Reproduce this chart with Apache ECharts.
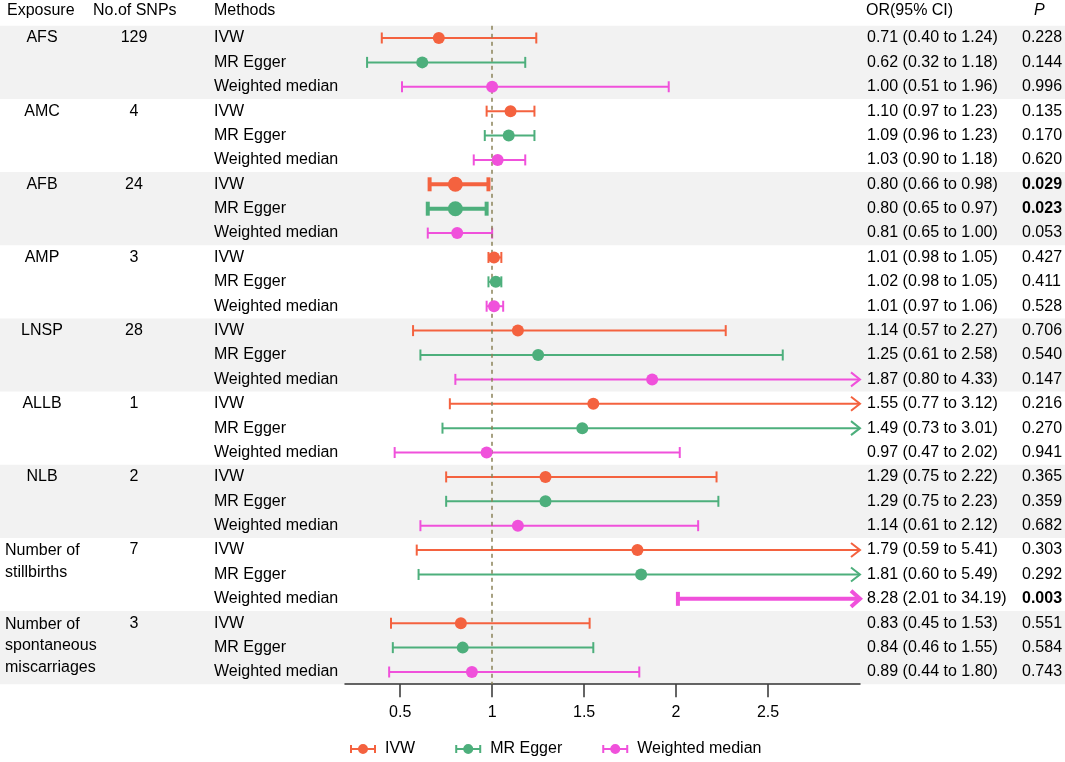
<!DOCTYPE html>
<html><head><meta charset="utf-8">
<script src="https://cdn.jsdelivr.net/npm/echarts@6/dist/echarts.min.js"></script>
<style>html,body{margin:0;padding:0;background:#fff}#c{width:1065px;height:762px}</style>
</head><body><div id="c"></div>
<script>
// ---------- data ----------
const exposures = ['AFS','AMC','AFB','AMP','LNSP','ALLB','NLB','Number of\nstillbirths','Number of\nspontaneous\nmiscarriages'];
const nSNPs = [129, 4, 24, 3, 28, 1, 2, 7, 3];
const methods = ['IVW', 'MR Egger', 'Weighted median'];

const ivwOR    = [0.71, 1.10, 0.80, 1.01, 1.14, 1.55, 1.29, 1.79, 0.83];
const ivwLower = [0.40, 0.97, 0.66, 0.98, 0.57, 0.77, 0.75, 0.59, 0.45];
const ivwUpper = [1.24, 1.23, 0.98, 1.05, 2.27, 3.12, 2.22, 5.41, 1.53];
const ivwP     = [0.228, 0.135, 0.029, 0.427, 0.706, 0.216, 0.365, 0.303, 0.551];

const eggerOR    = [0.62, 1.09, 0.80, 1.02, 1.25, 1.49, 1.29, 1.81, 0.84];
const eggerLower = [0.32, 0.96, 0.65, 0.98, 0.61, 0.73, 0.75, 0.60, 0.46];
const eggerUpper = [1.18, 1.23, 0.97, 1.05, 2.58, 3.01, 2.23, 5.49, 1.55];
const eggerP     = [0.144, 0.170, 0.023, 0.411, 0.540, 0.270, 0.359, 0.292, 0.584];

const wmOR    = [1.00, 1.03, 0.81, 1.01, 1.87, 0.97, 1.14, 8.28, 0.89];
const wmLower = [0.51, 0.90, 0.65, 0.97, 0.80, 0.47, 0.61, 2.01, 0.44];
const wmUpper = [1.96, 1.18, 1.00, 1.06, 4.33, 2.02, 2.12, 34.19, 1.80];
const wmP     = [0.996, 0.620, 0.053, 0.528, 0.147, 0.941, 0.682, 0.003, 0.743];

const axisTickValues = [0.5, 1, 1.5, 2, 2.5];
const axisMin = 0.2, axisMax = 3;

// ---------- styling ----------
const FONT = 'Arial, "Liberation Sans", Helvetica, sans-serif';
const COLORS = ['#F4623F', '#4DAF7C', '#F051DB'];
const BAND = '#F2F2F2';
const TOP = 25.8, BOTTOM = 77.8;

const methodSets = [
  {or: ivwOR, lo: ivwLower, hi: ivwUpper, p: ivwP},
  {or: eggerOR, lo: eggerLower, hi: eggerUpper, p: eggerP},
  {or: wmOR, lo: wmLower, hi: wmUpper, p: wmP}
];
const nRows = exposures.length * methods.length;
const rowCats = Array.from({length: nRows}, (_, i) => String(i));

const bandData = exposures.map((e, g) => [0, g * 3, g]);
const tableData = [];
exposures.forEach((e, g) => methods.forEach((m, k) => tableData.push([0, g * 3 + k, g, k])));

function bandRender(params, api) {
  const g = api.value(2);
  if (g % 2 === 1) return null;
  const h = api.size([0, 1])[1];
  const y = api.coord([0, api.value(1)])[1] - h / 2;
  return {type: 'rect', shape: {x: 0, y: y, width: 1065, height: h * 3}, style: {fill: BAND}, silent: true};
}

function tableRender(params, api) {
  const row = api.value(1), g = api.value(2), k = api.value(3);
  const y = api.coord([0, row])[1];
  const set = methodSets[k];
  const base = {fontFamily: FONT, fontSize: 16, fill: '#000', verticalAlign: 'middle'};
  const children = [];
  children.push({type: 'text', style: Object.assign({}, base, {x: 214, y: y, text: methods[k], align: 'left'})});
  const ci = set.or[g].toFixed(2) + ' (' + set.lo[g].toFixed(2) + ' to ' + set.hi[g].toFixed(2) + ')';
  children.push({type: 'text', style: Object.assign({}, base, {x: 867, y: y, text: ci, align: 'left'})});
  const p = set.p[g];
  children.push({type: 'text', style: Object.assign({}, base, {x: 1022, y: y, text: p.toFixed(3), align: 'left', fontWeight: p < 0.05 ? 'bold' : 'normal'})});
  if (k === 0) {
    const lines = exposures[g].split('\n');
    if (lines.length === 1) {
      children.push({type: 'text', style: Object.assign({}, base, {x: 42, y: y, text: lines[0], align: 'center'})});
    } else {
      lines.forEach((ln, i) => children.push({type: 'text', style: Object.assign({}, base, {x: 5, y: y + 1 + i * 21.5, text: ln, align: 'left'})}));
    }
    children.push({type: 'text', style: Object.assign({}, base, {x: 134, y: y, text: String(nSNPs[g]), align: 'center'})});
  }
  return {type: 'group', children: children, silent: true};
}

function errRender(color) {
  return function (params, api) {
    const lo = api.value(0), row = api.value(1), hi = api.value(2), sig = api.value(3);
    const p1 = api.coord([lo, row]);
    const p2 = api.coord([Math.min(hi, axisMax), row]);
    const lw = sig ? 4 : 2;
    const ch = sig ? 7 : 5.5;
    const st = {stroke: color, lineWidth: lw, fill: null};
    const ch1 = [
      {type: 'line', shape: {x1: p1[0], y1: p1[1], x2: p2[0], y2: p2[1]}, style: st},
      {type: 'line', shape: {x1: p1[0], y1: p1[1] - ch, x2: p1[0], y2: p1[1] + ch}, style: st}
    ];
    if (hi > axisMax) {
      const al = 9, ah = sig ? 8 : 7;
      ch1.push({type: 'polyline', shape: {points: [[p2[0] - al, p2[1] - ah], [p2[0], p2[1]], [p2[0] - al, p2[1] + ah]]}, style: st});
    } else {
      ch1.push({type: 'line', shape: {x1: p2[0], y1: p2[1] - ch, x2: p2[0], y2: p2[1] + ch}, style: st});
    }
    return {type: 'group', children: ch1};
  };
}

const series = [
  {type: 'custom', name: 'bands', xAxisIndex: 0, yAxisIndex: 0, renderItem: bandRender, data: bandData, z: 0, silent: true, encode: {x: 0, y: 1}},
  {type: 'custom', name: 'table', xAxisIndex: 0, yAxisIndex: 0, renderItem: tableRender, data: tableData, z: 1, silent: true, encode: {x: 0, y: 1}},
  {type: 'scatter', name: 'ref', xAxisIndex: 1, yAxisIndex: 1, data: [], z: 2, silent: true,
   markLine: {silent: true, symbol: ['none', 'none'], label: {show: false}, animation: false,
     lineStyle: {color: '#8A8258', type: [4, 4], width: 1.5}, data: [{xAxis: 1}]}}
];

methods.forEach((name, k) => {
  const set = methodSets[k];
  const pts = [], errs = [];
  set.or.forEach((v, g) => {
    const row = g * 3 + k;
    const sig = set.p[g] < 0.05 ? 1 : 0;
    errs.push([set.lo[g], row, set.hi[g], sig]);
    if (v <= axisMax) pts.push({value: [v, row], symbolSize: sig ? 15 : 12});
  });
  series.push({type: 'scatter', name: name, xAxisIndex: 1, yAxisIndex: 1, data: pts, z: 5,
    symbol: 'circle', itemStyle: {color: COLORS[k], opacity: 1}, silent: true});
  series.push({type: 'custom', name: name, xAxisIndex: 1, yAxisIndex: 1, data: errs, z: 4,
    renderItem: errRender(COLORS[k]), encode: {x: [0, 2], y: 1}, itemStyle: {color: COLORS[k]}, silent: true});
});

const legendIcon = 'path://M0,2 h2 v8 h-2 Z M0,5 h26 v2 h-26 Z M24,2 h2 v8 h-2 Z M8,6 a5,5 0 1,1 10,0 a5,5 0 1,1 -10,0 Z';

const hdr = {fontFamily: FONT, fontSize: 16, fill: '#000', verticalAlign: 'middle'};
const option = {
  animation: false,
  backgroundColor: '#fff',
  grid: [
    {left: 0, right: 0, top: TOP, bottom: BOTTOM},
    {left: 345, right: 205, top: TOP, bottom: BOTTOM}
  ],
  xAxis: [
    {type: 'value', gridIndex: 0, min: 0, max: 1065, show: false},
    {type: 'value', gridIndex: 1, min: axisMin, max: axisMax,
     axisLine: {show: true, lineStyle: {color: '#333', width: 1.5}},
     axisTick: {show: true, length: 13, lineStyle: {color: '#333', width: 1.5}, customValues: axisTickValues},
     axisLabel: {show: true, margin: 20, fontSize: 16, fontFamily: FONT, color: '#000', customValues: axisTickValues},
     splitLine: {show: false}}
  ],
  yAxis: [
    {type: 'category', gridIndex: 0, data: rowCats, inverse: true, show: false},
    {type: 'category', gridIndex: 1, data: rowCats, inverse: true, show: false}
  ],
  legend: {
    data: methods, left: 345, top: 736, itemWidth: 26, itemHeight: 12, itemGap: 40,
    icon: legendIcon, selectedMode: false,
    textStyle: {fontSize: 16, fontFamily: FONT, color: '#000', padding: [0, 0, 0, 4]}
  },
  graphic: [
    {type: 'text', left: 7, top: 3, style: Object.assign({}, hdr, {text: 'Exposure'})},
    {type: 'text', left: 93, top: 3, style: Object.assign({}, hdr, {text: 'No.of SNPs'})},
    {type: 'text', left: 214, top: 3, style: Object.assign({}, hdr, {text: 'Methods'})},
    {type: 'text', left: 866, top: 3, style: Object.assign({}, hdr, {text: 'OR(95% CI)'})},
    {type: 'text', left: 1034, top: 3, style: Object.assign({}, hdr, {text: 'P', fontStyle: 'italic'})}
  ],
  series: series
};
const chart = echarts.init(document.getElementById('c'), null, {renderer: 'canvas'});
chart.setOption(option);
</script></body></html>
